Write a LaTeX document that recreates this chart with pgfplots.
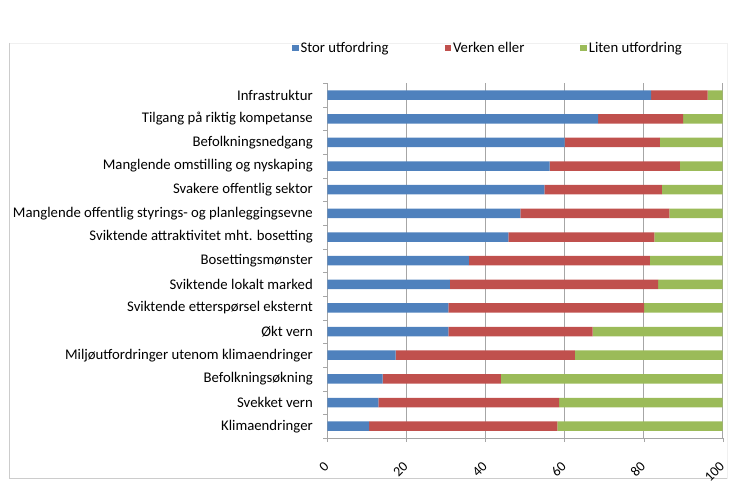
\documentclass[border=0pt]{standalone}
\usepackage{pgfplots}
\pgfplotsset{compat=1.18}
\usepackage{fontspec}
\setmainfont{Carlito}
\definecolor{cblue}{HTML}{4F81BD}
\definecolor{cred}{HTML}{C0504D}
\definecolor{cgreen}{HTML}{9BBB59}
\definecolor{cgrid}{HTML}{A6A6A6}
\begin{document}
\begin{tikzpicture}
\useasboundingbox (-327.3bp,-61bp) rectangle (413.7bp,438bp);
\draw[gray!12] (-318bp,-40bp) rectangle (400bp,395bp);
\draw[gray!40,line width=1bp] (-318bp,395bp) -- (-318bp,-40bp) -- (400bp,-40bp);
\begin{axis}[
  at={(0,0)}, anchor=south west,
  scale only axis,
  width=395.4bp, height=354.7bp,
  xbar stacked,
  bar width=9.5bp,
  xmin=0, xmax=100,
  ymin=-0.5, ymax=14.5,
  xtick={0,20,...,100},
  ytick={0,...,14},
  yticklabels={Klimaendringer, Svekket vern, Befolkningsøkning, Miljøutfordringer utenom klimaendringer, Økt vern, Sviktende etterspørsel eksternt, Sviktende lokalt marked, Bosettingsmønster, Sviktende attraktivitet mht. bosetting, Manglende offentlig styrings- og planleggingsevne, Svakere offentlig sektor, Manglende omstilling og nyskaping, Befolkningsnedgang, Tilgang på riktig kompetanse, Infrastruktur},
  minor ytick={-0.5,0.5,...,14.5},
  major y tick style={draw=none},
  minor tick length=4bp,
  major tick length=4bp,
  tick align=outside,
  xtick pos=bottom, ytick pos=left,
  axis x line*=bottom, axis y line*=left,
  axis line style={cgrid},
  tick style={cgrid},
  xmajorgrids, grid style={cgrid, line width=0.6bp},
  /pgf/number format/assume math mode=true,
  yticklabel style={font=\fontsize{14.8}{16}\selectfont, xshift=-7bp},
  xticklabel style={font=\fontsize{14}{16}\selectfont, xshift=0bp, yshift=-21bp, rotate=45, anchor=east, inner sep=1bp},
  legend columns=3,
  legend style={at={(-0.097,1.1)}, anchor=west, draw=none, fill=none,
    font=\fontsize{14.8}{16}\selectfont,
    /tikz/every even column/.append style={column sep=54bp}},
  legend image code/.code={\fill[#1] (0bp,-3.2bp) rectangle (6.5bp,3.2bp);},
  clip=false,
]
\addplot[fill=cblue, draw=none] coordinates {
(10.6,0) (12.9,1) (14.0,2) (17.3,3) (30.6,4) (30.6,5) (31.0,6) (35.8,7) (45.8,8) (48.8,9) (54.9,10) (56.2,11) (60.0,12) (68.5,13) (81.9,14)};
\addplot[fill=cred, draw=none] coordinates {
(47.6,0) (45.7,1) (29.9,2) (45.3,3) (36.5,4) (49.5,5) (52.7,6) (45.8,7) (36.9,8) (37.7,9) (29.7,10) (33.0,11) (24.1,12) (21.5,13) (14.3,14)};
\addplot[fill=cgreen, draw=none] coordinates {
(41.8,0) (41.4,1) (56.1,2) (37.4,3) (32.9,4) (19.9,5) (16.3,6) (18.4,7) (17.3,8) (13.5,9) (15.4,10) (10.8,11) (15.9,12) (10.0,13) (3.8,14)};
\legend{Stor utfordring, Verken eller, Liten utfordring}
\end{axis}
\end{tikzpicture}
\end{document}
